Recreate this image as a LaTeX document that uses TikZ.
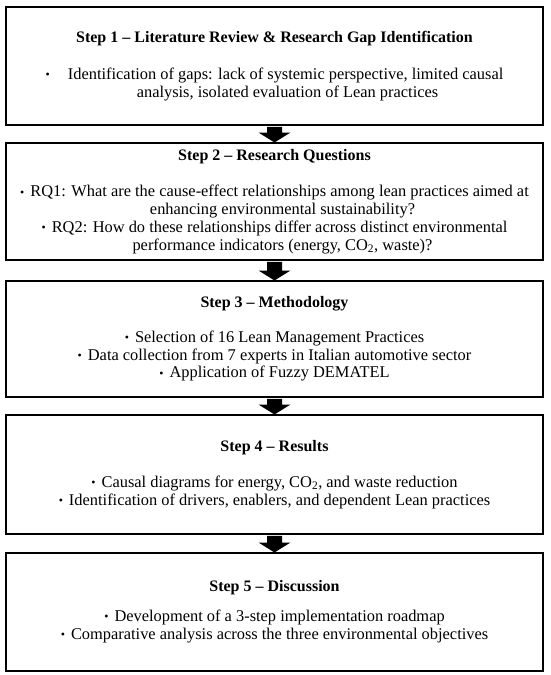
\documentclass[tikz,border=0pt]{standalone}
\usepackage{fontspec}
\setmainfont{Liberation Serif}
\usetikzlibrary{calc,shadows}
\newcommand\bul{\raisebox{0.8pt}{\fontsize{12}{12}\selectfont •}\hspace{6pt}}
\begin{document}
\begin{tikzpicture}[x=1pt,y=1pt,
  stepbox/.style={draw=black, line width=1.8pt, fill=white, minimum width=537pt,
    anchor=north, align=center, inner sep=0pt,
    font=\fontsize{16.4}{17.8}\selectfont,
    drop shadow={opacity=0.22, shadow xshift=1.2pt, shadow yshift=-1.2pt}},
  steptitle/.style={font=\fontsize{16}{17.8}\selectfont\bfseries},
  blockarrow/.style={fill=black}]
\useasboundingbox (0,0) rectangle (550,-675);
\fill[white] (0,0) rectangle (550,-675);

\node[stepbox, minimum height=118pt] (b1) at (274.5,-6)
  {{\fontsize{16}{17.8}\selectfont\bfseries Step 1 – Literature Review \& Research Gap Identification}\\[19pt]
   \bul\hspace{12pt}Identification of gaps: lack of systemic perspective, limited causal\\
   \hspace{26pt}analysis, isolated evaluation of Lean practices};

\node[stepbox, minimum height=117pt] (b2) at (274.5,-142)
  {{\fontsize{16}{17.8}\selectfont\bfseries Step 2 – Research Questions}\\[19pt]
   \bul RQ1: What are the cause-effect relationships among lean practices aimed at\\
   \hspace{16pt}enhancing environmental sustainability?\\
   \bul RQ2: How do these relationships differ across distinct environmental\\
   \hspace{16pt}performance indicators (energy, CO\textsubscript{2}, waste)?};

\node[stepbox, minimum height=116pt] (b3) at (274.5,-280)
  {{\fontsize{16}{17.8}\selectfont\bfseries Step 3 – Methodology}\\[17pt]
   \bul Selection of 16 Lean Management Practices\\
   \bul Data collection from 7 experts in Italian automotive sector\\
   \bul Application of Fuzzy DEMATEL};

\node[stepbox, minimum height=119pt] (b4) at (274.5,-414)
  {{\fontsize{16}{17.8}\selectfont\bfseries Step 4 – Results}\\[18pt]
   \bul Causal diagrams for energy, CO\textsubscript{2}, and waste reduction\\
   \bul Identification of drivers, enablers, and dependent Lean practices};

\node[stepbox, minimum height=118pt] (b5) at (274.5,-552)
  {{\fontsize{16}{17.8}\selectfont\bfseries Step 5 – Discussion}\\[12pt]
   \bul Development of a 3-step implementation roadmap\\
   \bul Comparative analysis across the three environmental objectives};

\foreach \s/\e in {b1/b2,b2/b3,b3/b4,b4/b5}{
  \fill[blockarrow] ($(\s.south)+(-7.5,-1)$) -- ($(\e.north)+(-7.5,9.5)$)
    -- ($(\e.north)+(-16,9.5)$) -- ($(\e.north)+(0,-0.5)$) -- ($(\e.north)+(16,9.5)$)
    -- ($(\e.north)+(7.5,9.5)$) -- ($(\s.south)+(7.5,-1)$) -- cycle;
}
\end{tikzpicture}
\end{document}
